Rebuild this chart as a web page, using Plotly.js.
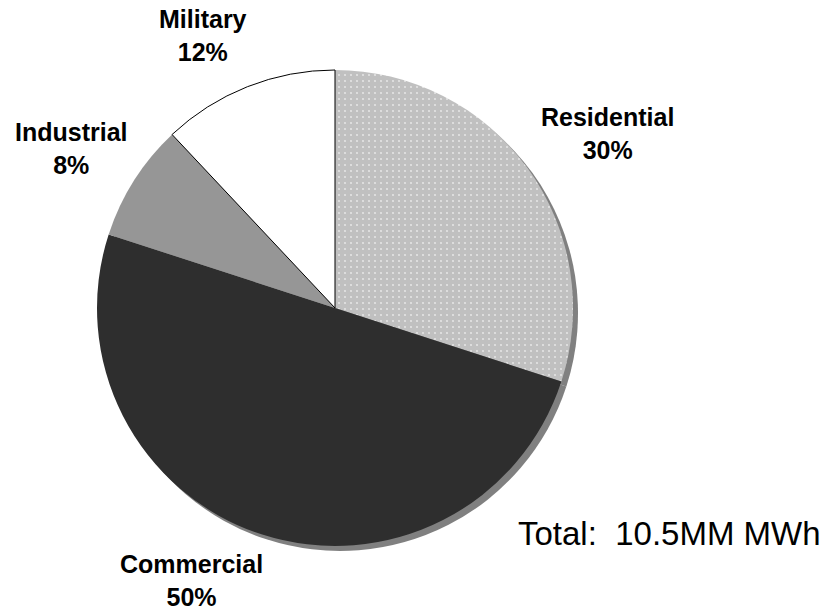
<!DOCTYPE html>
<html>
<head>
<meta charset="utf-8">
<script src="https://cdn.plot.ly/plotly-3.0.1.min.js"></script>
<style>html,body{margin:0;padding:0;background:#fff;}#chart{width:825px;height:613px;}</style>
</head>
<body>
<div id="chart"></div>
<script>
const categories = ["Residential", "Commercial", "Industrial", "Military"];
const shares = [30, 50, 8, 12];
const totalNote = "Total:  10.5MM MWh";

const W = 825, H = 613;
const px = x => x / W;
const py = y => 1 - y / H;

const sliceColors = ["#c0c0c0", "#2e2e2e", "#969696", "#ffffff"];
const lineColors = ["#c0c0c0", "#2e2e2e", "#969696", "#000000"];
const lineWidths = [0, 0, 0, 1];

const shadow = {
  type: "pie",
  values: shares,
  labels: categories.map(c => c + " shadow"),
  sort: false,
  direction: "clockwise",
  rotation: 0,
  textinfo: "none",
  hoverinfo: "skip",
  showlegend: false,
  marker: { colors: categories.map(() => "#808080"), line: { width: 0 } },
  domain: { x: [px(102), px(578)], y: [py(551), py(75)] }
};

const pie = {
  type: "pie",
  values: shares,
  labels: categories,
  sort: false,
  direction: "clockwise",
  rotation: 0,
  textinfo: "none",
  showlegend: false,
  marker: {
    colors: sliceColors,
    line: { color: lineColors, width: lineWidths },
    pattern: {
      shape: [".", "", "", ""],
      size: 6, solidity: 0.1,
      fgcolor: "#e4e4e4",
      bgcolor: sliceColors,
      fillmode: "replace"
    }
  },
  domain: { x: [px(97), px(573)], y: [py(546), py(70)] }
};

const labelPos = [[607, 134], [191, 580], [71, 148], [203, 36]];
const annotations = categories.map((c, i) => ({
  text: "<b>" + c + "<br>" + shares[i] + "%</b>",
  xref: "paper", yref: "paper",
  x: px(labelPos[i][0]), y: py(labelPos[i][1]),
  xanchor: "center", yanchor: "middle",
  showarrow: false,
  font: { family: "Liberation Sans, Arial, sans-serif", size: 25, color: "#000" }
}));
annotations.push({
  text: totalNote,
  xref: "paper", yref: "paper",
  x: px(669), y: py(533),
  xanchor: "center", yanchor: "middle",
  showarrow: false,
  font: { family: "Liberation Sans, Arial, sans-serif", size: 33, color: "#000" }
});

Plotly.newPlot("chart", [shadow, pie], {
  width: W, height: H,
  margin: { l: 0, r: 0, t: 0, b: 0 },
  paper_bgcolor: "#fff",
  annotations: annotations
}, { staticPlot: true });
</script>
</body>
</html>
